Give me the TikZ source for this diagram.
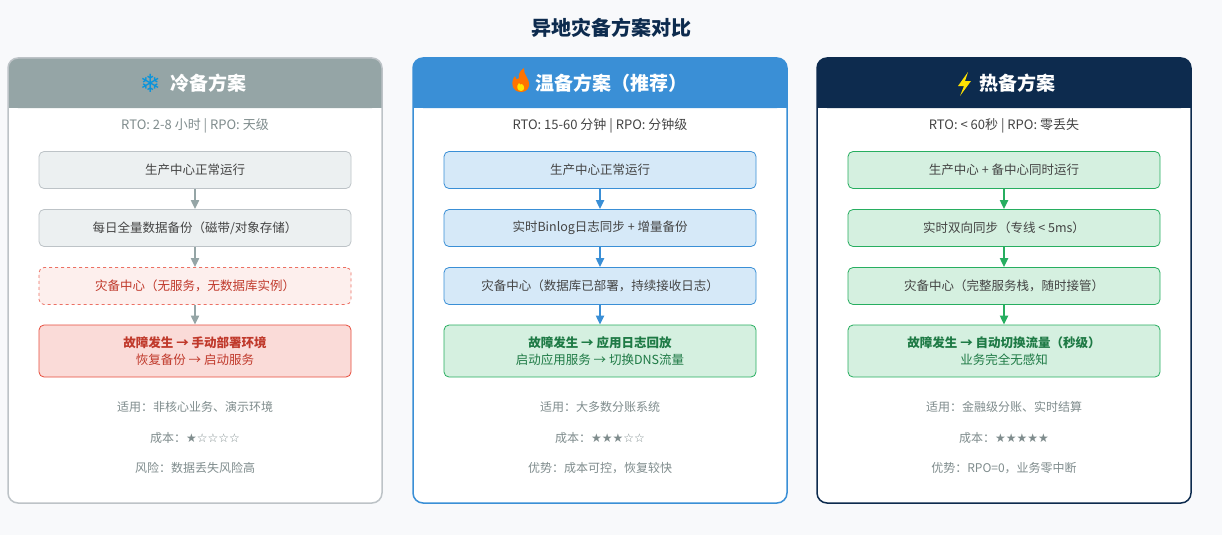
\documentclass[tikz,border=0pt]{standalone}
\usepackage{fontspec}
\setmainfont{Noto Sans CJK SC}
\newfontfamily\symfont{DejaVu Sans}
\usetikzlibrary{positioning,arrows.meta}
\definecolor{bgx}{HTML}{F8F9FB}
\definecolor{coldh}{HTML}{95A5A6}
\definecolor{warmh}{HTML}{3A8FD6}
\definecolor{hoth}{HTML}{0D2B4E}
\definecolor{grayf}{HTML}{ECF0F1}
\definecolor{grayd}{HTML}{BDC3C7}
\definecolor{bluef}{HTML}{D6E9F8}
\definecolor{greenf}{HTML}{D5F0E0}
\definecolor{greend}{HTML}{27AE60}
\definecolor{greent}{HTML}{1E7A45}
\definecolor{redf}{HTML}{FADBD8}
\definecolor{redd}{HTML}{E74C3C}
\definecolor{redt}{HTML}{C0392B}
\definecolor{textx}{HTML}{444444}
\definecolor{mutex}{HTML}{7F8C8D}
\tikzset{
    stage/.style={rounded corners=5pt,minimum width=312pt,minimum height=37pt,inner sep=0pt,
        font=\fontsize{12.5}{17}\selectfont,text=textx,align=center,line width=0.8pt},
    cold/.style={stage,fill=grayf,draw=grayd},
    warm/.style={stage,fill=bluef,draw=warmh},
    hot/.style={stage,fill=greenf,draw=greend},
    alarm/.style={stage,fill=redf,draw=redd,text=redt,minimum height=52pt},
    done/.style={stage,fill=greenf,draw=greend,text=greent,minimum height=52pt},
    flow/.style={-{Triangle[width=8pt,length=9pt]},line width=2pt},
    note/.style={font=\fontsize{12}{14}\selectfont,text=mutex},
    head/.style={font=\bfseries\fontsize{19}{22}\selectfont,text=white}
}
\begin{document}
\begin{tikzpicture}[x=1pt,y=-1pt]
    \fill[bgx] (0,0) rectangle (1222,535);
    \useasboundingbox (0,0) rectangle (1222,535);
    \node[font=\bfseries\fontsize{20}{24}\selectfont,text=hoth] (title) at (611,28) {异地灾备方案对比};
    % panels
    \foreach \x/\hc/\bc in {8/coldh/grayd,413/warmh/warmh,817/hoth/hoth} {
        \fill[white,rounded corners=10pt] (\x,58) rectangle ++(374,445);
        \fill[\hc,rounded corners=10pt] (\x,58) rectangle ++(374,50);
        \fill[\hc] (\x,90) rectangle ++(374,18);
        \draw[\bc,line width=1.5pt,rounded corners=10pt] (\x,58) rectangle ++(374,445);
    }
    % cold
    \node[head] (h1) at (208,83) {冷备方案};
    \node[text=cyan!80!blue,font=\symfont\bfseries\fontsize{25}{25}\selectfont,left=2pt of h1] (i1) {❄};
    \node[font=\fontsize{13}{15}\selectfont,text=mutex] (r1) at (195,126) {RTO: 2-8 小时 | RPO: 天级};
    \node[cold] (a1) at (195,170) {生产中心正常运行};
    \node[cold] (b1) at (195,228) {每日全量数据备份（磁带/对象存储）};
    \node[cold,fill=redf!45,draw=redd!80,dashed,text=redt] (c1) at (195,286) {灾备中心（无服务，无数据库实例）};
    \node[alarm] (d1) at (195,351) {\textbf{故障发生 → 手动部署环境}\\恢复备份 → 启动服务};
    \foreach \s/\t in {a1/b1,b1/c1,c1/d1} \draw[flow,coldh] (\s) -- (\t);
    \node[note] (n1) at (195,407) {适用：非核心业务、演示环境};
    \node[note] (m1) at (195,438) {成本：{\symfont★☆☆☆☆}};
    \node[note] (k1) at (195,468) {风险：数据丢失风险高};
    % warm
    \node[head] (h2) at (611,83) {温备方案（推荐）};
    \fill[orange!90!red] (521,92) .. controls (512,92) and (510,82) .. (515,76)
        .. controls (516,80) and (518,80) .. (519,78) .. controls (518,73) and (521,70) .. (524,68)
        .. controls (523,75) and (530,78) .. (529,86) .. controls (528,90) and (525,92) .. (521,92);
    \fill[yellow!90!orange] (521,91) .. controls (517,91) and (516,86) .. (519,83)
        .. controls (520,85) and (521,85) .. (522,84) .. controls (525,86) and (525,91) .. (521,91);
    \node[font=\fontsize{13}{15}\selectfont,text=textx] (r2) at (600,126) {RTO: 15-60 分钟 | RPO: 分钟级};
    \node[warm] (a2) at (600,170) {生产中心正常运行};
    \node[warm] (b2) at (600,228) {实时Binlog日志同步 + 增量备份};
    \node[warm] (c2) at (600,286) {灾备中心（数据库已部署，持续接收日志）};
    \node[done] (d2) at (600,351) {\textbf{故障发生 → 应用日志回放}\\启动应用服务 → 切换DNS流量};
    \foreach \s/\t in {a2/b2,b2/c2,c2/d2} \draw[flow,warmh] (\s) -- (\t);
    \node[note] (n2) at (600,407) {适用：大多数分账系统};
    \node[note] (m2) at (600,438) {成本：{\symfont★★★☆☆}};
    \node[note] (k2) at (600,468) {优势：成本可控，恢复较快};
    % hot
    \node[head] (h3) at (1017,83) {热备方案};
    \fill[yellow!85!orange] (968,72) -- (958,86) -- (964,86) -- (960,96) -- (971,81) -- (965,81) -- cycle;
    \node[font=\fontsize{13}{15}\selectfont,text=textx] (r3) at (1004,126) {RTO: < 60秒 | RPO: 零丢失};
    \node[hot] (a3) at (1004,170) {生产中心 + 备中心同时运行};
    \node[hot] (b3) at (1004,228) {实时双向同步（专线 < 5ms）};
    \node[hot] (c3) at (1004,286) {灾备中心（完整服务栈，随时接管）};
    \node[done] (d3) at (1004,351) {\textbf{故障发生 → 自动切换流量（秒级）}\\业务完全无感知};
    \foreach \s/\t in {a3/b3,b3/c3,c3/d3} \draw[flow,greend] (\s) -- (\t);
    \node[note] (n3) at (1004,407) {适用：金融级分账、实时结算};
    \node[note] (m3) at (1004,438) {成本：{\symfont★★★★★}};
    \node[note] (k3) at (1004,468) {优势：RPO=0，业务零中断};
\end{tikzpicture}
\end{document}
